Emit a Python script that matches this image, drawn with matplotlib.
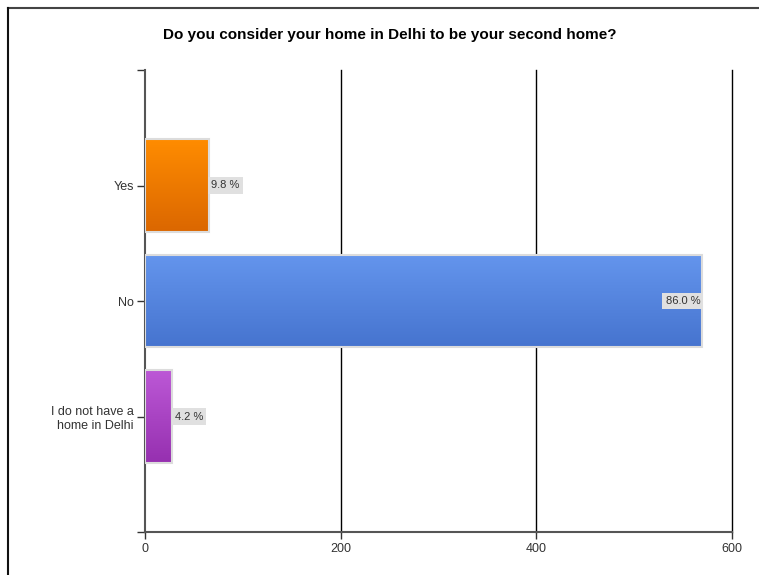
import matplotlib

matplotlib.use("Agg")

import matplotlib.pyplot as plt
import numpy as np
from matplotlib.colors import LinearSegmentedColormap
from matplotlib.lines import Line2D

plt.rcParams["font.family"] = ["Liberation Sans", "DejaVu Sans"]

title = "Do you consider your home in Delhi to be your second home?"
categories = ["Yes", "No", "I do not have a\nhome in Delhi"]
counts = [65, 569, 28]
bar_top_colors = ["#ff8c00", "#6495ed", "#bc58d6"]
bar_bottom_colors = ["#db6700", "#4674cf", "#9630b0"]
x_ticks = [0, 200, 400, 600]

total = sum(counts)
percents = [100.0 * c / total for c in counts]

fig = plt.figure(figsize=(7.59, 5.75), dpi=100)
ax = fig.add_axes([145 / 759, 1 - 532 / 575, (732 - 145) / 759, (532 - 70) / 575])

pos = np.arange(len(categories))
bar_h = 0.8
bars = ax.barh(pos, counts, height=bar_h, facecolor="none",
               edgecolor="#dcdcdc", linewidth=1.5, zorder=3)

# vertical gradient fill for each bar
grad = np.linspace(0, 1, 64).reshape(-1, 1)
for bar, c_top, c_bot in zip(bars, bar_top_colors, bar_bottom_colors):
    cmap = LinearSegmentedColormap.from_list("g", [c_top, c_bot])
    x0 = bar.get_x()
    x1 = x0 + bar.get_width()
    y0 = bar.get_y()
    y1 = y0 + bar.get_height()
    ax.imshow(grad, cmap=cmap, aspect="auto", origin="upper",
              extent=(x0, x1, y1, y0), zorder=2, interpolation="bilinear")

# percentage labels
label_box = dict(boxstyle="square,pad=0.28", facecolor="#e0e0e0", edgecolor="none")
for bar, pct in zip(bars, percents):
    end = bar.get_width()
    yc = bar.get_y() + bar.get_height() / 2
    txt = f"{pct:.1f} %"
    if end > 450:
        ax.text(end - 1.5, yc, txt, ha="right", va="center", fontsize=8,
                color="#333333", zorder=5, bbox=label_box)
    else:
        ax.text(end + 2.5, yc, txt, ha="left", va="center", fontsize=8,
                color="#333333", zorder=5, bbox=label_box)

ax.set_xlim(0, 600)
ax.set_ylim(3, -1)
ax.set_xticks(x_ticks)
ax.set_xticklabels([str(t) for t in x_ticks])
ax.set_yticks([-1, 0, 1, 2, 3])
ax.set_yticklabels([""] + categories + [""], multialignment="right")

for x in x_ticks[1:]:
    ax.axvline(x, color="black", linewidth=1, zorder=1, clip_on=False)

for side in ["top", "right"]:
    ax.spines[side].set_visible(False)
ax.spines["left"].set_color("#555555")
ax.spines["left"].set_linewidth(1.5)
ax.spines["bottom"].set_color("#555555")
ax.spines["bottom"].set_linewidth(1.5)

ax.tick_params(axis="x", length=5, width=1, color="#333333", labelsize=9,
               labelcolor="#333333", pad=3)
ax.tick_params(axis="y", length=6, width=1, color="#333333", labelsize=9,
               labelcolor="#333333", pad=2)

fig.text(390 / 759, 1 - 35 / 575, title, ha="center", va="center",
         fontsize=11, fontweight="bold", color="black")

# frame lines on the top and left edge of the figure
fig.add_artist(Line2D([8 / 759, 1], [1 - 8 / 575, 1 - 8 / 575],
                      transform=fig.transFigure, color="#444444", linewidth=1.5))
fig.add_artist(Line2D([8 / 759, 8 / 759], [0, 1 - 8 / 575],
                      transform=fig.transFigure, color="#111111", linewidth=1.5))

fig.savefig("out.png", dpi=100)
plt.close(fig)
